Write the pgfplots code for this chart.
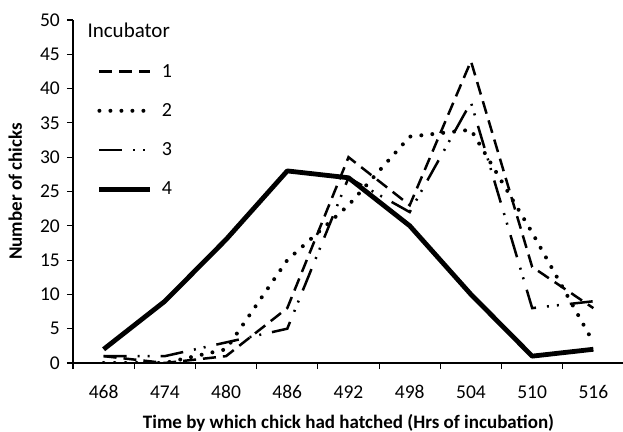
\documentclass[border=0pt]{standalone}
\usepackage{fontspec}
\setmainfont{Carlito}
\usepackage{pgfplots}
\pgfplotsset{compat=1.18}
\begin{document}
\begin{tikzpicture}
\begin{axis}[
  at={(73bp,69bp)}, anchor=south west,
  scale only axis, width=551bp, height=343bp,
  xmin=-0.5, xmax=8.5, ymin=0, ymax=50,
  axis x line*=bottom, axis y line*=left,
  axis line style={black, line width=1.1bp},
  xtick={0,...,8},
  xticklabels={468,474,480,486,492,498,504,510,516},
  minor xtick={-0.5,0.5,...,8.5},
  ytick={0,5,...,50},
  tick align=outside,
  major tick length=6bp, minor tick length=6bp,
  every major x tick/.append style={draw=none},
  tick style={black, line width=1.1bp},
  /pgf/number format/assume math mode=true,
  tick label style={font=\fontsize{19.5bp}{22bp}\selectfont, inner sep=0pt},
  xticklabel style={anchor=base, yshift=-29.5bp},
  yticklabel style={anchor=east, xshift=-7bp},
  xlabel={Time by which chick had hatched (Hrs of incubation)},
  xlabel style={at={(axis description cs:0.5,0)}, anchor=base, inner sep=0pt, yshift=-65bp, font=\bfseries\fontsize{19bp}{22bp}\selectfont},
  ylabel={Number of chicks},
  ylabel style={at={(axis description cs:-0.0926,0.5)}, anchor=base, inner sep=0pt, font=\bfseries\fontsize{19bp}{22bp}\selectfont},
  legend style={at={(rel axis cs:0.0436,0.8709)}, anchor=north west, draw=none, fill=none,
    inner sep=0pt, outer sep=0pt, row sep=26.2bp, column sep=9bp,
    font=\fontsize{20bp}{22bp}\selectfont,
    nodes={inner sep=0pt, text height=13bp, text depth=0bp, anchor=base west}},
  legend cell align=left,
  legend image code/.code={\draw[#1] (0bp,5.7bp) -- (51bp,5.7bp);},
  no markers,
]
\addplot[black, line width=2.5bp, dash pattern=on 13bp off 7bp] coordinates {
 (0,1) (1,0) (2,1) (3,8) (4,30) (5,23) (6,44) (7,14) (8,8)};
\addlegendentry{1}
\addplot[black, line width=4bp, line cap=round, dash pattern=on 0bp off 11bp] coordinates {
 (0,0) (1,0) (2,2) (3,15) (4,23) (5,33) (6,34) (7,19) (8,3)};
\addlegendentry{2}
\addplot[black, line width=2.5bp, dash pattern=on 23bp off 11bp on 2bp off 8bp on 2bp off 11bp] coordinates {
 (0,1) (1,1) (2,3) (3,5) (4,27) (5,22) (6,38) (7,8) (8,9)};
\addlegendentry{3}
\addplot[black, line width=4.8bp, line join=round] coordinates {
 (0,2) (1,9) (2,18) (3,28) (4,27) (5,20) (6,10) (7,1) (8,2)};
\addlegendentry{4}
\node[anchor=base west, inner sep=0pt, font=\fontsize{21bp}{24bp}\selectfont] at (rel axis cs:0.026,0.9496) {Incubator};
\end{axis}
\pgfresetboundingbox
\useasboundingbox (0,0) rectangle (623bp,432bp);
\end{tikzpicture}
\end{document}
